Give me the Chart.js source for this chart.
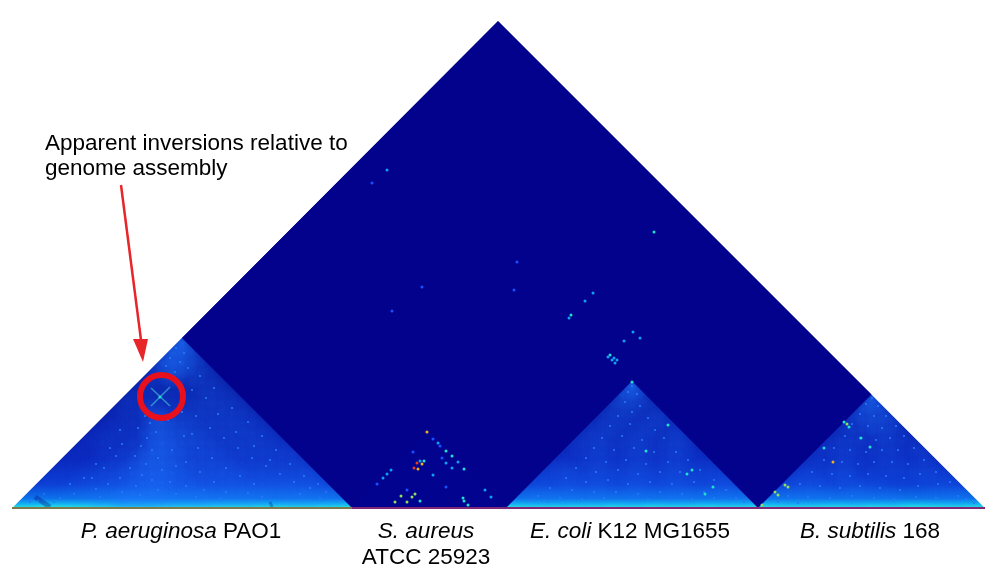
<!DOCTYPE html>
<html>
<head>
<meta charset="utf-8">
<style>
  body { margin: 0; background: #fff; }
</style>
<script src="https://cdn.jsdelivr.net/npm/chart.js@4"></script>
</head>
<body>
<canvas id="hicChart" width="1000" height="585"></canvas>
<script>
// x = position along the concatenated genomes, h = height above the diagonal
var wholeMap = [[12, 0], [498, 487], [985, 0]];
var paeTriangle = [[12, 0], [182, 170], [352, 0]];
var ecoTriangle = [[506, 0], [632, 127], [758, 0]];
var bsuTriangle = [[758, 0], [871.5, 113.5], [985, 0]];
var sauTriangle = [[352, 0], [429, 77], [506, 0]];
var interRegion = [[182, 170], [498, 487], [871.5, 113.5], [758, 0], [632, 127], [506, 0], [352, 0]];
var whiteLeft = [[0, -77], [0, 510], [498, 510], [498, 487], [12, 0], [985, 0], [498, 487], [498, 510], [1000, 510], [1000, -77]];

// contact intensity read by eye, rows run from the apex to the base
var paeLevels = ["9", "85", "673", "3742", "22232", "222232", "2222332", "12533332", "122643332",
  "1226543332", "12237543332", "112376443333", "1123675443333", "11235764443333",
  "112346754444443", "1123467554444443", "21124776554433432"];
var ecoLevels = ["9", "54", "342", "2323", "23232", "232323", "2323232", "12323231", "223232322",
  "2323232322", "22332323223", "233232323232", "2333323233233"];
var bsuLevels = ["8", "55", "354", "2342", "23232", "232323", "2232322", "22312232", "232321122",
  "2332321122", "23323231232"];

// single bright pixels: x, h, level
var spots = [
  [427, 76, 4], [433, 69, 0], [438, 65, 1], [440, 62, 0], [446, 57, 2], [452, 52, 2], [413, 56, 0],
  [424, 47, 2], [420, 47, 1], [446, 45, 1], [442, 50, 0], [458, 46, 1], [422, 44, 4], [417, 45, 5],
  [418, 39, 4], [414, 40, 5], [464, 39, 2], [452, 40, 1], [433, 33, 1], [391, 38, 1], [387, 34, 1],
  [383, 30, 1], [377, 24, 0], [446, 21, 0], [485, 18, 1], [407, 18, 0], [415, 14, 3], [412, 11, 3],
  [401, 12, 3], [407, 6, 3], [395, 6, 3], [420, 7, 2], [463, 10, 2], [464, 7, 2], [468, 3, 2], [491, 11, 1],
  [387, 338, 1], [372, 325, 0], [654, 276, 2], [593, 215, 1], [585, 207, 1], [571, 193, 2], [569, 190, 1],
  [514, 218, 0], [633, 176, 1], [624, 167, 1], [640, 170, 1], [610, 153, 2], [608, 151, 1], [614, 150, 1],
  [617, 148, 1], [615, 145, 1], [612, 148, 1], [422, 221, 0], [517, 246, 0], [392, 197, 0],
  [844, 86, 2], [847, 84, 3], [849, 81, 2], [785, 23, 3], [788, 21, 3], [775, 16, 3], [778, 13, 3],
  [762, 3, 3], [833, 46, 4], [861, 70, 2], [870, 61, 2], [824, 60, 2],
  [692, 38, 2], [687, 34, 2], [713, 21, 2], [705, 14, 2], [646, 57, 2], [668, 83, 2], [632, 126, 2],
  [160, 111, 2]
];
var spotColors = ["#1a50ff", "#10a0f0", "#20e0d0", "#90e060", "#f0b020", "#e04020"];

// fine grain: hand placed, follows where the speckle is dense rather than exact pixels
var paeSpecks = [
  [176, 160], [184, 155], [170, 150], [180, 146], [188, 140], [166, 142], [175, 136], [160, 132], [200, 132], [214, 120],
  [192, 118], [145, 92], [150, 85], [138, 80], [156, 76], [147, 70], [141, 62], [152, 58], [135, 52], [158, 50],
  [146, 44], [130, 40], [162, 38], [142, 33], [120, 30], [152, 28], [170, 26], [108, 24], [136, 22], [186, 22],
  [96, 19], [158, 18], [204, 18], [122, 16], [226, 16], [74, 14], [176, 14], [248, 15], [140, 13], [300, 14],
  [60, 10], [100, 11], [196, 11], [262, 11], [320, 10], [84, 8], [126, 8], [220, 9], [286, 8], [168, 7],
  [120, 78], [110, 60], [96, 44], [84, 30], [70, 24], [104, 40], [116, 52], [196, 92], [210, 80], [224, 70],
  [238, 60], [252, 50], [266, 42], [280, 34], [294, 26], [310, 20], [184, 72], [198, 60], [212, 50], [226, 40],
  [240, 32], [254, 24], [172, 58], [186, 46], [200, 36], [214, 26], [232, 100], [248, 86], [262, 72], [276, 58],
  [290, 44], [304, 32], [182, 96], [168, 88], [206, 110], [218, 94], [236, 76], [254, 62], [270, 48], [192, 74],
  [176, 42], [122, 64], [92, 30], [326, 16], [336, 8], [54, 6], [38, 7], [30, 6], [44, 14], [318, 24]
];
var ecoSpecks = [
  [632, 122], [628, 116], [637, 114], [625, 106], [640, 102], [632, 96], [618, 92], [648, 90], [610, 82], [630, 84],
  [655, 78], [602, 70], [622, 72], [642, 68], [664, 70], [594, 60], [614, 58], [634, 60], [654, 56], [676, 56],
  [586, 50], [606, 46], [626, 48], [646, 44], [668, 46], [688, 48], [576, 40], [596, 36], [618, 38], [638, 34],
  [660, 36], [680, 36], [700, 38], [566, 30], [586, 26], [608, 28], [628, 24], [650, 26], [672, 24], [694, 26],
  [714, 28], [550, 20], [572, 18], [594, 16], [616, 16], [638, 14], [660, 16], [682, 14], [704, 16], [726, 18],
  [538, 12], [560, 10], [582, 9], [604, 10], [626, 8], [648, 9], [670, 8], [692, 9], [714, 10], [736, 10],
  [528, 7], [548, 6], [744, 6]
];
var bsuSpecks = [
  [872, 110], [866, 104], [878, 102], [860, 94], [874, 92], [886, 92], [852, 84], [868, 82], [882, 80], [896, 82],
  [845, 72], [860, 70], [876, 68], [890, 70], [904, 72], [834, 60], [850, 58], [866, 56], [882, 58], [898, 58],
  [914, 60], [824, 48], [842, 46], [858, 44], [874, 46], [892, 46], [908, 44], [924, 48], [812, 36], [832, 34],
  [850, 32], [868, 34], [886, 32], [904, 30], [920, 34], [936, 36], [800, 24], [820, 22], [840, 20], [860, 22],
  [880, 20], [900, 18], [918, 22], [938, 24], [950, 26], [788, 12], [808, 11], [830, 10], [852, 12], [874, 10],
  [894, 9], [916, 11], [936, 10], [958, 12], [966, 9], [778, 6], [798, 5], [974, 5]
];

// the inversion signal inside the circle, and the dark gaps in the P. aeruginosa map
var crossA = [[151, 120], [170, 102]];
var crossB = [[151, 102], [170, 121]];
var gapA = [[35, 11], [50, 1]];
var gapB = [[270, 6], [272, 1]];
var circleCentre = [[161.5, 111.5]];
var arrowShaft = [[121, 323], [141, 168]];
var arrowHead = [[133, 169], [148, 169], [143, 146]];

var noteLines = ["Apparent inversions relative to", "genome assembly"];
var noteX = 45;
var noteH = [358, 333];
var labelRows = [
  { x: 181, h: -30, runs: [["P. aeruginosa", true], [" PAO1", false]] },
  { x: 426, h: -30, runs: [["S. aureus", true]] },
  { x: 426, h: -56, runs: [["ATCC 25923", false]] },
  { x: 630, h: -30, runs: [["E. coli", true], [" K12 MG1655", false]] },
  { x: 870, h: -30, runs: [["B. subtilis", true], [" 168", false]] }
];

var toPoints = function (list) {
  return list.map(function (p) { return { x: p[0], y: p[1] }; });
};

// turn a level table into lattice points under the apex
function latticePoints(levels, apex, span) {
  var cell = span / levels.length;
  var pts = [];
  levels.forEach(function (row, k) {
    row.split("").forEach(function (c, j) {
      pts.push({ x: apex[0] + (j - k / 2) * cell, y: apex[1] - (k + 0.5) * cell / 2, level: +c });
    });
  });
  return pts;
}

// soft blob so the neighbouring cells melt together
function blobColor(context) {
  var chart = context.chart;
  var raw = context.raw;
  if (!raw || !chart.scales.x) return "rgba(0,0,0,0)";
  var px = chart.scales.x.getPixelForValue(raw.x);
  var py = chart.scales.y.getPixelForValue(raw.y);
  if (!isFinite(px) || !isFinite(py)) return "rgba(0,0,0,0)";
  var g = chart.ctx.createRadialGradient(px, py, 0, px, py, 17);
  g.addColorStop(0, "rgba(30,120,255," + (raw.level * 0.075).toFixed(3) + ")");
  g.addColorStop(1, "rgba(30,120,255,0)");
  return g;
}

function blobLayer(levels, apex, span) {
  return {
    data: latticePoints(levels, apex, span),
    showLine: false,
    pointRadius: 17,
    pointBorderWidth: 0,
    pointBackgroundColor: blobColor
  };
}

// bright band along the diagonal
function glowFill(context) {
  var chart = context.chart;
  if (!chart.scales.y) return "#0a1eb0";
  var y = chart.scales.y;
  var top = y.getPixelForValue(120);
  var bottom = y.getPixelForValue(0);
  if (!isFinite(top) || !isFinite(bottom)) return "#0a1eb0";
  var g = chart.ctx.createLinearGradient(0, top, 0, bottom);
  g.addColorStop(0, "#0616a0");
  g.addColorStop(0.6, "#0820b8");
  g.addColorStop(0.8, "#0a38d0");
  g.addColorStop(0.92, "#0a70e8");
  g.addColorStop(0.97, "#12c0f0");
  g.addColorStop(1, "#30f0d0");
  return g;
}

function shape(points, color) {
  return { data: toPoints(points), showLine: true, fill: "shape", borderWidth: 0, pointRadius: 0, backgroundColor: color, tension: 0 };
}

function stroke(points, color, width) {
  return { data: toPoints(points), showLine: true, fill: false, borderColor: color, borderWidth: width, pointRadius: 0, tension: 0 };
}

function speckLayer(list, color, radius) {
  return { data: toPoints(list), showLine: false, pointRadius: radius, pointBorderWidth: 0, pointBackgroundColor: color };
}

// text goes on top of everything, anchored through the scales
var textPlugin = {
  id: "textPlugin",
  afterDatasetsDraw: function (chart) {
    var c = chart.ctx;
    var sx = chart.scales.x;
    var sy = chart.scales.y;
    c.save();
    c.fillStyle = "#000";
    c.textBaseline = "alphabetic";
    noteLines.forEach(function (t, i) {
      c.font = "22.5px 'Liberation Sans'";
      c.fillText(t, sx.getPixelForValue(noteX), sy.getPixelForValue(noteH[i]));
    });
    labelRows.forEach(function (row) {
      var w = 0;
      row.runs.forEach(function (r) {
        c.font = (r[1] ? "italic " : "") + "22.5px 'Liberation Sans'";
        w += c.measureText(r[0]).width;
      });
      var px = sx.getPixelForValue(row.x) - w / 2;
      row.runs.forEach(function (r) {
        c.font = (r[1] ? "italic " : "") + "22.5px 'Liberation Sans'";
        c.fillText(r[0], px, sy.getPixelForValue(row.h));
        px += c.measureText(r[0]).width;
      });
    });
    c.restore();
  }
};

// first dataset is drawn last
var datasets = [
  { data: toPoints(circleCentre), showLine: false, pointRadius: 21.5, pointBorderWidth: 6, pointBorderColor: "#e8101c", pointBackgroundColor: "rgba(0,0,0,0)" },
  shape(arrowHead, "#e8262a"),
  stroke(arrowShaft, "#e8262a", 2.5),
  stroke([[12, 0], [352, 0]], "#7a7a50", 2),
  stroke([[352, 0], [985, 0]], "#802878", 2),
  {
    data: spots.map(function (s) { return { x: s[0], y: s[1], level: s[2] }; }),
    showLine: false,
    pointRadius: 1.5,
    pointBorderWidth: 0,
    pointBackgroundColor: function (context) {
      return context.raw ? spotColors[context.raw.level] : "#000";
    }
  },
  speckLayer(paeSpecks, "#2a78fa", 1.1),
  speckLayer(ecoSpecks, "#2a78fa", 1.1),
  speckLayer(bsuSpecks, "#2a78fa", 1.1),
  stroke(crossA, "rgba(70,200,220,0.6)", 1.6),
  stroke(crossB, "rgba(70,200,220,0.6)", 1.6),
  shape(sauTriangle, "rgba(20,40,200,0.07)"),
  shape(interRegion, "#02028c"),
  shape(whiteLeft, "#ffffff"),
  stroke(gapA, "rgba(5,15,130,0.35)", 5),
  stroke(gapB, "rgba(5,15,130,0.3)", 3),
  blobLayer(paeLevels, paeTriangle[1], 340),
  blobLayer(ecoLevels, ecoTriangle[1], 252),
  blobLayer(bsuLevels, bsuTriangle[1], 227),
  shape(wholeMap, glowFill)
];

var myChart = new Chart(document.getElementById("hicChart"), {
  type: "scatter",
  data: { datasets: datasets },
  options: {
    responsive: false,
    animation: false,
    layout: { padding: 0, autoPadding: false },
    plugins: { legend: { display: false }, tooltip: { enabled: false } },
    scales: {
      x: { type: "linear", display: false, min: 0, max: 1000 },
      y: { type: "linear", display: false, min: -77, max: 508 }
    }
  },
  plugins: [textPlugin]
});
</script>
</body>
</html>
